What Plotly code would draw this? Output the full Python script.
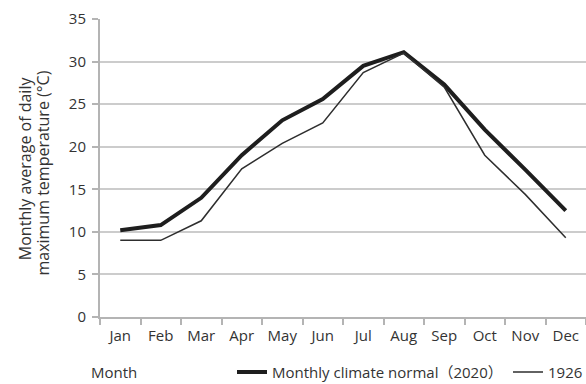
import plotly.graph_objects as go

months = ["Jan", "Feb", "Mar", "Apr", "May", "Jun", "Jul", "Aug", "Sep", "Oct", "Nov", "Dec"]
normal_2020 = [10.2, 10.8, 14.0, 19.0, 23.1, 25.6, 29.5, 31.1, 27.3, 22.0, 17.3, 12.5]
year_1926 = [9.0, 9.0, 11.3, 17.4, 20.4, 22.8, 28.7, 31.0, 27.0, 19.0, 14.4, 9.3]
y_ticks = [0, 5, 10, 15, 20, 25, 30, 35]
y_title_lines = ["Monthly average of daily", "maximum temperature (°C)"]

FONT = "'Open Sans', 'Noto Sans CJK JP', sans-serif"
TXT = "#333333"
FS = 15

fig = go.Figure()
fig.add_trace(go.Scatter(
    x=months, y=normal_2020, mode="lines", name="Monthly climate normal（2020）",
    line=dict(color="#1e1e1e", width=4), legend="legend"))
fig.add_trace(go.Scatter(
    x=months, y=year_1926, mode="lines", name="1926",
    line=dict(color="#2e2e2e", width=1.5), legend="legend2"))

PW, PH = 486, 297.7
def px_x(p):
    return (p - 100) / PW
def px_y(p):
    return (316.7 - p) / PH

fig.update_layout(
    width=586, height=384,
    margin=dict(l=100, r=0, t=19, b=67, autoexpand=False),
    paper_bgcolor="white", plot_bgcolor="white",
    font=dict(family=FONT, size=FS, color=TXT),
    showlegend=True,
    legend=dict(orientation="h", x=px_x(232), xanchor="left", y=px_y(372), yanchor="middle",
                font=dict(size=FS, color=TXT), bgcolor="rgba(0,0,0,0)"),
    legend2=dict(orientation="h", x=px_x(508), xanchor="left", y=px_y(372), yanchor="middle",
                 font=dict(size=FS, color=TXT), bgcolor="rgba(0,0,0,0)"),
    xaxis=dict(
        type="category", categoryorder="array", categoryarray=months,
        range=[-0.5, 11.5], tickson="boundaries", ticks="outside", ticklen=6,
        tickcolor="#b4b4b4", tickwidth=1.5, showline=True, linecolor="#b4b4b4", linewidth=2,
        showgrid=False, tickfont=dict(size=FS, color=TXT), ticklabelstandoff=4, fixedrange=True),
    yaxis=dict(
        range=[0, 35], tickvals=y_ticks, ticks="outside", ticklen=6, tickcolor="#b4b4b4",
        tickwidth=1.5, showline=True, linecolor="#b4b4b4", linewidth=2,
        showgrid=True, gridcolor="#cccccc", gridwidth=1.5, zeroline=False,
        tickfont=dict(size=FS, color=TXT), ticklabelstandoff=3, fixedrange=True),
    annotations=[
        dict(text=y_title_lines[0], textangle=-90,
             xref="paper", yref="paper", x=px_x(25), y=px_y(168),
             xanchor="center", yanchor="middle",
             showarrow=False, font=dict(size=16, color=TXT)),
        dict(text=y_title_lines[1], textangle=-90,
             xref="paper", yref="paper", x=px_x(43), y=px_y(173.4),
             xanchor="center", yanchor="middle",
             showarrow=False, font=dict(size=16, color=TXT)),
        dict(text="Month", xref="paper", yref="paper", x=px_x(89), y=px_y(372),
             xanchor="left", yanchor="middle", showarrow=False, font=dict(size=FS, color=TXT)),
    ],
)

fig.write_html("out.html", config={"displayModeBar": False},
               post_script="document.body.style.margin='0';document.body.style.overflow='hidden';")
